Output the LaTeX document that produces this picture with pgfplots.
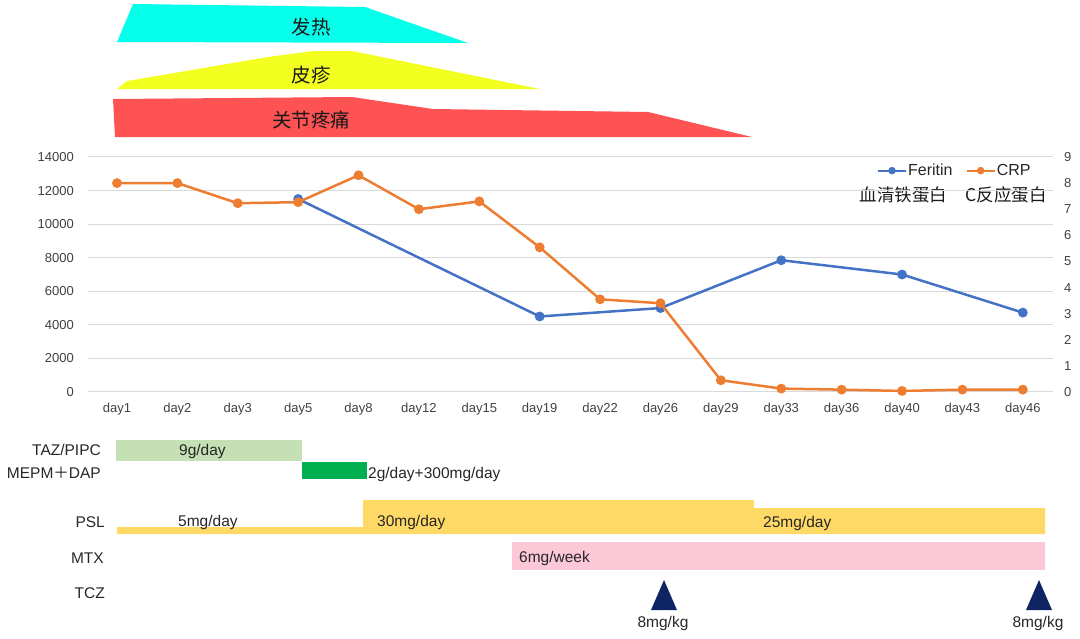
\documentclass[border=0pt]{standalone}
\usepackage{pgfplots}
\pgfplotsset{compat=1.18}
\usepackage{fontspec}
\setmainfont{Liberation Sans}
\newfontfamily\cjk{Noto Sans CJK SC}
\definecolor{bandcyan}{HTML}{05FFEB}
\definecolor{bandyellow}{HTML}{F3FF1F}
\definecolor{bandred}{HTML}{FF5252}
\definecolor{tazgreen}{HTML}{C5E0B4}
\definecolor{mepgreen}{HTML}{00B050}
\definecolor{pslyellow}{HTML}{FFD966}
\definecolor{mtxpink}{HTML}{FCC7D7}
\definecolor{tcznavy}{HTML}{0F2462}
\definecolor{ferblue}{HTML}{4472C4}
\definecolor{crporange}{HTML}{ED7D31}
\definecolor{gridgray}{HTML}{D9D9D9}
\definecolor{ticktext}{HTML}{404040}
\newcommand{\fs}[1]{\fontsize{#1}{#1}\selectfont}
\begin{document}
\begin{tikzpicture}[x=1pt,y=1pt]
\path[use as bounding box] (0,0) rectangle (1080,638);
% ---------- overlay: symptom bands and treatment bars (pixel units) ----------
\begin{axis}[at={(0pt,0pt)}, anchor=south west, scale only axis,
  width=1080pt, height=638pt, xmin=0, xmax=1080, ymin=0, ymax=638,
  y dir=reverse, hide axis, clip=false]
 % symptoms
 \addplot[fill=bandcyan, draw=none] coordinates {(133,4) (365,7) (468,43) (117,42)} -- cycle;
 \addplot[fill=bandyellow, draw=none] coordinates {(117,89) (127,81) (268,57) (313,51) (352,51) (540,89)} -- cycle;
 \addplot[fill=bandred, draw=none] coordinates {(113,99) (352,97) (433,109) (648,112) (752,137) (115,137)} -- cycle;
 % treatments
 \addplot[fill=tazgreen, draw=none] coordinates {(116,440) (302,440) (302,461) (116,461)} -- cycle;
 \addplot[fill=mepgreen, draw=none] coordinates {(302,462) (367,462) (367,479) (302,479)} -- cycle;
 \addplot[fill=pslyellow, draw=none] coordinates {(117,527) (363,527) (363,500) (754,500) (754,508) (1045,508) (1045,534) (117,534)} -- cycle;
 \addplot[fill=mtxpink, draw=none] coordinates {(512,542) (1045,542) (1045,570) (512,570)} -- cycle;
 \addplot[fill=tcznavy, draw=none] coordinates {(651,610) (664,580) (677,610)} -- cycle;
 \addplot[fill=tcznavy, draw=none] coordinates {(1026,610) (1039,580) (1052,610)} -- cycle;
 % symptom labels
 \node[text=black!90] at (axis cs:311,27) {\cjk\fs{19.5}发热};
 \node[text=black!90] at (axis cs:311,75) {\cjk\fs{19.5}皮疹};
 \node[text=black!90] at (axis cs:311,120) {\cjk\fs{19.5}关节疼痛};
 % treatment labels
 \node[anchor=east, inner sep=0pt, text=black!85] at (axis cs:101,450) {\fs{15.5}TAZ/PIPC};
 \node[anchor=east, inner sep=0pt, text=black!85] at (axis cs:101,473) {\fs{15.5}MEPM{\cjk ＋}DAP};
 \node[anchor=east, inner sep=0pt, text=black!85] at (axis cs:105,522) {\fs{15.5}PSL};
 \node[anchor=east, inner sep=0pt, text=black!85] at (axis cs:104,558) {\fs{15.5}MTX};
 \node[anchor=east, inner sep=0pt, text=black!85] at (axis cs:105,593) {\fs{15.5}TCZ};
 \node[anchor=west, inner sep=0pt, text=black!85] at (axis cs:179,451) {\fs{15.5}9g/day};
 \node[anchor=west, inner sep=0pt, text=black!85] at (axis cs:368,474) {\fs{15.5}2g/day+300mg/day};
 \node[anchor=west, inner sep=0pt, text=black!85] at (axis cs:178,522) {\fs{15.5}5mg/day};
 \node[anchor=west, inner sep=0pt, text=black!85] at (axis cs:377,522) {\fs{15.5}30mg/day};
 \node[anchor=west, inner sep=0pt, text=black!85] at (axis cs:763,523) {\fs{15.5}25mg/day};
 \node[anchor=west, inner sep=0pt, text=black!85] at (axis cs:519,558) {\fs{15.5}6mg/week};
 \node[inner sep=0pt, text=black!85] at (axis cs:663,623) {\fs{15.5}8mg/kg};
 \node[inner sep=0pt, text=black!85] at (axis cs:1038,623) {\fs{15.5}8mg/kg};
 % legend second row
 \node[inner sep=0pt, text=black!90] at (axis cs:903.5,195) {\cjk\fs{17.5}血清铁蛋白};
 \node[inner sep=0pt, text=black!90] at (axis cs:1006,195) {\cjk\fs{17.5}C反应蛋白};
\end{axis}
% ---------- main chart: Feritin (left axis) ----------
\begin{axis}[at={(88pt,246pt)}, anchor=south west, scale only axis,
  width=965pt, height=235pt,
  xmin=-0.48, xmax=15.5, ymin=0, ymax=14000,
  xtick={0,...,15},
  xticklabels={day1,day2,day3,day5,day8,day12,day15,day19,day22,day26,day29,day33,day36,day40,day43,day46},
  ytick={0,2000,...,14000},
  ymajorgrids, major grid style={gridgray, line width=1pt},
  axis line style={draw=none}, major tick length=0pt,
  tick label style={font=\fs{13}, text=ticktext},
  yticklabel style={inner sep=0pt, xshift=-14pt},
  xticklabel style={inner sep=0pt, yshift=-11pt},
  scaled y ticks=false,
  /pgf/number format/.cd, 1000 sep={}, assume math mode=true]
 \addplot[ferblue, line width=2.5pt, mark=*, mark size=3.6pt] coordinates {
  (3,11500) (7,4500) (9,5000) (11,7850) (13,7000) (15,4730)};
\end{axis}
% ---------- CRP (right axis) ----------
\begin{axis}[at={(88pt,246pt)}, anchor=south west, scale only axis,
  width=965pt, height=235pt,
  xmin=-0.48, xmax=15.5, ymin=0, ymax=9,
  axis x line=none, axis y line*=right,
  ytick={0,...,9},
  axis line style={draw=none}, major tick length=0pt,
  tick label style={font=\fs{13}, text=ticktext},
  yticklabel style={inner sep=0pt, xshift=11pt},
  legend columns=2,
  legend style={at={(0.978,0.975)}, anchor=north east, draw=none, fill=none,
    inner sep=0pt, font=\fs{16}, text=black!85,
    nodes={inner sep=1pt},
    /tikz/every even column/.append style={column sep=12pt}},
  legend image code/.code={\draw[mark repeat=2, mark phase=2, #1] plot coordinates {(0pt,0pt) (14pt,0pt) (28pt,0pt)};},
  /pgf/number format/.cd, assume math mode=true]
 \addlegendimage{ferblue, line width=2.2pt, mark=*, mark size=2.6pt}
 \addlegendentry{Feritin}
 \addplot[crporange, line width=2.5pt, mark=*, mark size=3.6pt, forget plot] coordinates {
  (0,8.0) (1,8.0) (2,7.23) (3,7.27) (4,8.3) (5,7.0) (6,7.3) (7,5.54)
  (8,3.55) (9,3.4) (10,0.45) (11,0.13) (12,0.09) (13,0.04) (14,0.09) (15,0.09)};
 \addlegendimage{crporange, line width=2.2pt, mark=*, mark size=2.6pt}
 \addlegendentry{CRP}
\end{axis}
\end{tikzpicture}
\end{document}
